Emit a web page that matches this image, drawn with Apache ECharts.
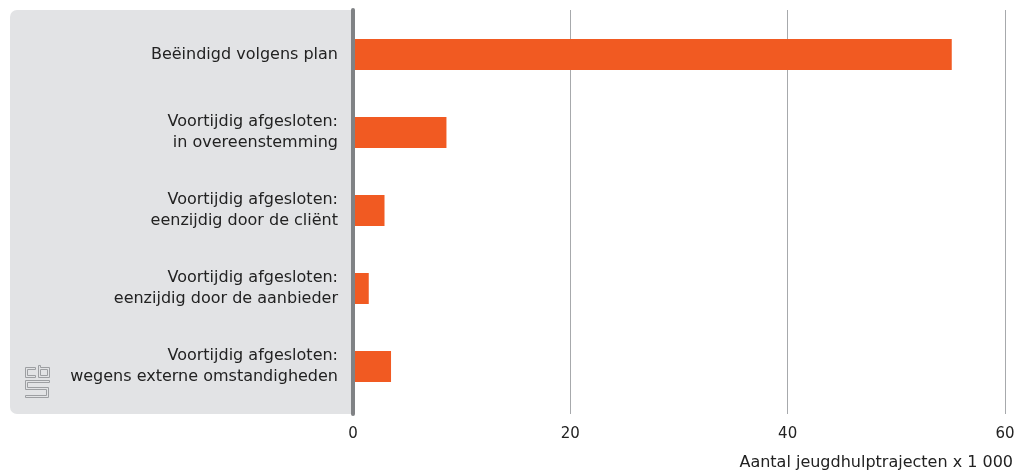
<!DOCTYPE html>
<html>
<head>
<meta charset="utf-8">
<script src="https://cdn.jsdelivr.net/npm/echarts@6/dist/echarts.min.js"></script>
<style>html,body{margin:0;padding:0;background:#fff;}#c{width:1026px;height:473px;}</style>
</head>
<body>
<div id="c"></div>
<script>
const categories = [
  'Beëindigd volgens plan',
  'Voortijdig afgesloten:\nin overeenstemming',
  'Voortijdig afgesloten:\neenzijdig door de cliënt',
  'Voortijdig afgesloten:\neenzijdig door de aanbieder',
  'Voortijdig afgesloten:\nwegens externe omstandigheden'
];
const values = [55.1, 8.6, 2.9, 1.45, 3.5];
const xTicks = [0, 20, 40, 60];
const axisTitle = 'Aantal jeugdhulptrajecten x 1 000';

const FONT = 'DejaVu Sans';
const chart = echarts.init(document.getElementById('c'), null, {renderer: 'canvas'});
const logoStroke = {stroke: '#9d9fa2', lineWidth: 1, fill: null};
chart.setOption({
  animation: false,
  backgroundColor: '#ffffff',
  title: {
    text: axisTitle,
    right: 8, top: 450,
    textStyle: {fontFamily: FONT, fontSize: 16, fontWeight: 'normal', color: '#222'}
  },
  graphic: [
    {type: 'rect', z: -10, shape: {x: 10, y: 10, width: 342, height: 404, r: [7, 0, 0, 7]}, style: {fill: '#e2e3e5'}},
    {type: 'polyline', z: 5, shape: {points: [[35.5,367.5],[25.5,367.5],[25.5,377.5],[35.5,377.5],[35.5,375.5],[27.5,375.5],[27.5,369.5],[35.5,369.5],[35.5,367.5]]}, style: logoStroke},
    {type: 'polyline', z: 5, shape: {points: [[38.5,365.5],[40.5,365.5],[40.5,367.5],[49.5,367.5],[49.5,377.5],[38.5,377.5],[38.5,365.5]]}, style: logoStroke},
    {type: 'rect', z: 5, shape: {x: 40.5, y: 369.5, width: 7, height: 6}, style: logoStroke},
    {type: 'polyline', z: 5, shape: {points: [[49.5,380.5],[25.5,380.5],[25.5,389.5],[46.5,389.5],[46.5,395.5],[25.5,395.5],[25.5,397.5],[48.5,397.5],[48.5,387.5],[27.5,387.5],[27.5,382.5],[49.5,382.5],[49.5,380.5]]}, style: logoStroke}
  ],
  grid: [
    {left: 353, right: 21, top: 10, bottom: 59},
    {left: 353, right: 21, top: 15.5, bottom: 67.5}
  ],
  xAxis: [
    {
      gridIndex: 0, type: 'value', min: 0, max: 60, interval: 20,
      axisLine: {show: false}, axisTick: {show: false},
      splitLine: {show: true, lineStyle: {color: '#a7a9ac', width: 1}},
      axisLabel: {
        margin: 13, fontFamily: FONT, fontSize: 15, color: '#222',
        formatter: v => xTicks.includes(v) ? String(v) : ''
      }
    },
    {
      gridIndex: 1, type: 'value', min: 0, max: 60, show: false
    }
  ],
  yAxis: [
    {
      gridIndex: 0, type: 'value', min: 0, max: 1, z: 5,
      axisLine: {show: true, lineStyle: {color: '#808285', width: 4}},
      axisTick: {show: false}, axisLabel: {show: false}, splitLine: {show: false}
    },
    {
      gridIndex: 1, type: 'category', data: categories, inverse: true,
      axisLine: {show: false}, axisTick: {show: false}, splitLine: {show: false},
      axisLabel: {
        margin: 15, fontFamily: FONT, fontSize: 16, color: '#222', lineHeight: 21, align: 'right'
      }
    }
  ],
  series: [{
    type: 'bar', xAxisIndex: 1, yAxisIndex: 1,
    data: values, barWidth: 31,
    itemStyle: {color: '#f15a22'}
  }]
});
</script>
</body>
</html>
